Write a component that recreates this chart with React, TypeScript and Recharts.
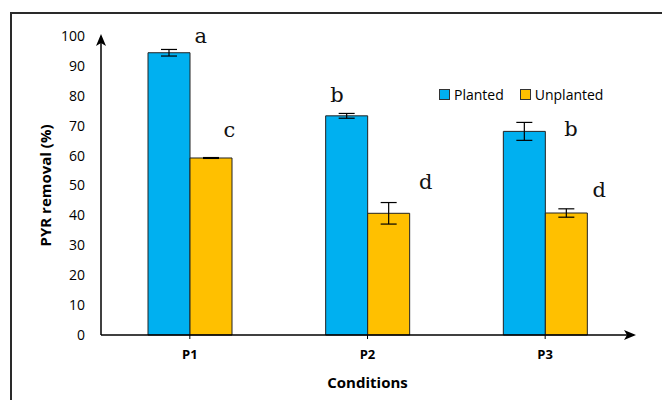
import React from 'react';
import { BarChart, Bar, XAxis, YAxis, ErrorBar, LabelList, Label, Customized } from 'recharts';

const categories = ['P1', 'P2', 'P3'];
const planted = [94.4, 73.3, 68.1];
const plantedErr = [1.1, 0.8, 3.0];
const unplanted = [59.2, 40.7, 40.8];
const unplantedErr = [0.15, 3.6, 1.4];
const plantedLetters = ['a', 'b', 'b'];
const unplantedLetters = ['c', 'd', 'd'];
const yTicks = [0, 10, 20, 30, 40, 50, 60, 70, 80, 90, 100];

// letter placement relative to the bar's top-right corner (layout only)
const plantedLetterOffset = [
  [10.7, -10],
  [-30.7, -14],
  [25.7, 4.7],
];
const unplantedLetterOffset = [
  [-2.7, -21.3],
  [16, -24],
  [12, -15.7],
];

const data = categories.map((c, i) => ({
  name: c,
  planted: planted[i],
  plantedErr: plantedErr[i],
  unplanted: unplanted[i],
  unplantedErr: unplantedErr[i],
  plantedLetter: plantedLetters[i],
  unplantedLetter: unplantedLetters[i],
}));

const BLUE = '#00B0F0';
const YELLOW = '#FFC000';
const SANS = '"Open Sans", "Noto Sans", sans-serif';

const makeLetter = (offsets: number[][]) => (props: any) => {
  const { x, y, width, index, value } = props;
  const off = offsets[index] || [0, 0];
  return (
    <text
      x={Number(x) + Number(width) + off[0]}
      y={Number(y) + off[1]}
      textAnchor="middle"
      fontFamily='"DejaVu Serif", serif'
      fontSize={21}
      fill="#111"
    >
      {value}
    </text>
  );
};

const Defs = () => (
  <defs>
    <marker
      id="arrowHead"
      markerUnits="userSpaceOnUse"
      markerWidth={14}
      markerHeight={12}
      refX={10}
      refY={5}
      orient="auto-start-reverse"
    >
      <path d="M0,0 L12,5 L0,10 L3,5 z" fill="#000" />
    </marker>
  </defs>
);

const YTitle = (props: any) => {
  const vb = props.viewBox || {};
  const cx = vb.x + 4;
  const cy = vb.y + vb.height / 2;
  return (
    <text
      transform={`translate(${cx},${cy}) rotate(-90)`}
      textAnchor="middle"
      dominantBaseline="central"
      fontFamily={SANS}
      fontWeight="bold"
      fontSize={15}
      fill="#000"
    >
      PYR removal (%)
    </text>
  );
};

const LegendItem = ({ color, label }: { color: string; label: string }) => (
  <div style={{ display: 'flex', alignItems: 'center', marginRight: 16 }}>
    <div
      style={{
        width: 9,
        height: 9,
        background: color,
        border: '1px solid #333',
        marginRight: 4,
      }}
    />
    <span style={{ fontFamily: SANS, fontSize: 14, color: '#000' }}>{label}</span>
  </div>
);

export default function App() {
  return (
    <div
      style={{
        position: 'absolute',
        left: 0,
        top: 0,
        width: 662,
        height: 400,
        overflow: 'hidden',
        background: '#fff',
      }}
    >
      <div
        style={{
          position: 'absolute',
          left: 10,
          top: 12,
          width: 700,
          height: 450,
          border: '2px solid #2a2a2a',
        }}
      />
      <div style={{ position: 'absolute', left: 0, top: 0 }}>
        <BarChart
          width={662}
          height={400}
          data={data}
          margin={{ top: 36, right: 28, bottom: 35, left: 41 }}
          barGap={0}
          barSize={42}
        >
          <Customized component={Defs} />
          <XAxis
            dataKey="name"
            axisLine={{ stroke: '#000', strokeWidth: 1.5, markerEnd: 'url(#arrowHead)' }}
            tickLine={{ stroke: '#000' }}
            tickSize={4}
            height={30}
            tick={{ fontFamily: SANS, fontWeight: 'bold', fontSize: 13, fill: '#000' }}
            tickMargin={11}
          >
            <Label
              value="Conditions"
              position="bottom"
              offset={12}
              style={{ fontFamily: SANS, fontWeight: 'bold', fontSize: 15, fill: '#000' }}
            />
          </XAxis>
          <YAxis
            domain={[0, 100]}
            ticks={yTicks}
            width={60}
            interval={0}
            axisLine={{ stroke: '#000', strokeWidth: 1.5, markerStart: 'url(#arrowHead)' }}
            tickLine={false}
            tickSize={6}
            tickMargin={10}
            tick={{ fontFamily: SANS, fontSize: 14, fill: '#000' }}
          >
            <Label content={YTitle} />
          </YAxis>
          <Bar dataKey="planted" fill={BLUE} stroke="#222" strokeWidth={1} isAnimationActive={false}>
            <ErrorBar dataKey="plantedErr" width={8} stroke="#000" strokeWidth={1.2} />
            <LabelList dataKey="plantedLetter" content={makeLetter(plantedLetterOffset)} />
          </Bar>
          <Bar dataKey="unplanted" fill={YELLOW} stroke="#222" strokeWidth={1} isAnimationActive={false}>
            <ErrorBar dataKey="unplantedErr" width={8} stroke="#000" strokeWidth={1.2} />
            <LabelList dataKey="unplantedLetter" content={makeLetter(unplantedLetterOffset)} />
          </Bar>
        </BarChart>
      </div>
      <div style={{ position: 'absolute', left: 439, top: 85, display: 'flex' }}>
        <LegendItem color={BLUE} label="Planted" />
        <LegendItem color={YELLOW} label="Unplanted" />
      </div>
    </div>
  );
}
